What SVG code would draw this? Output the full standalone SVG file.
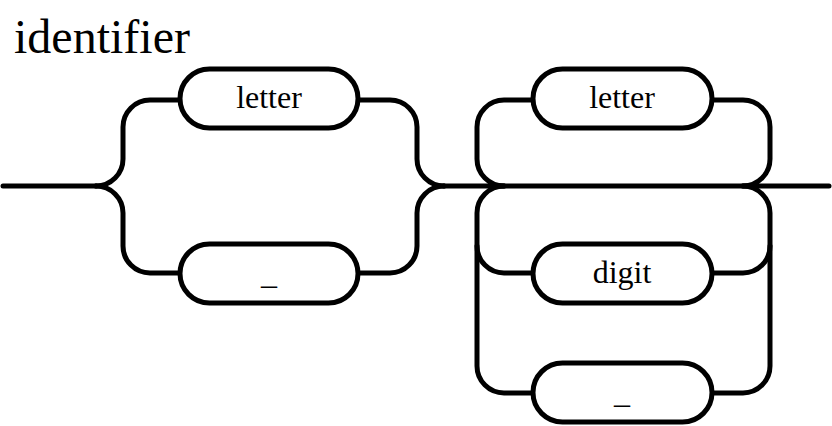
<svg xmlns="http://www.w3.org/2000/svg" width="832" height="426" viewBox="0 0 832 426">
<style>
.ln{fill:none;stroke:#000;stroke-width:5;stroke-linecap:round;stroke-linejoin:round}
.bx{fill:#fff;stroke:#000;stroke-width:5}
.t{font-family:"Liberation Serif","Times New Roman",Times,"Nimbus Roman","Nimbus Roman No9 L",FreeSerif,Tinos,"Noto Serif","DejaVu Serif",serif;font-size:32px;text-anchor:middle;fill:#000}
.title{font-family:"Liberation Serif","Times New Roman",Times,"Nimbus Roman","Nimbus Roman No9 L",FreeSerif,Tinos,"Noto Serif","DejaVu Serif",serif;font-size:48px;fill:#000}
</style>
<rect width="832" height="426" fill="#fff"/>
<text class="title" x="14" y="53">identifier</text>
<g id="connectors" class="ln">
<path d="M3,186 H96"/>
<path d="M96,186 A27 27 0 0 0 123,159 V127 A27 27 0 0 1 150,100 H180"/>
<path d="M96,186 A27 27 0 0 1 123,213 V246 A27 27 0 0 0 150,273 H180"/>
<path d="M358,100 H390 A27 27 0 0 1 417,127 V159 A27 27 0 0 0 444,186"/>
<path d="M358,273 H390 A27 27 0 0 0 417,246 V213 A27 27 0 0 1 444,186"/>
<path d="M444,186 H829"/>
<path d="M504,186 A27 27 0 0 1 477,159 V127 A27 27 0 0 1 504,100 H533"/>
<path d="M712,100 H743 A27 27 0 0 1 770,127 V159 A27 27 0 0 1 743,186"/>
<path d="M504,186 A27 27 0 0 0 477,213 V366 A27 27 0 0 0 504,393 H533"/>
<path d="M477,246 A27 27 0 0 0 504,273 H533"/>
<path d="M712,273 H743 A27 27 0 0 0 770,246 V213 A27 27 0 0 0 743,186"/>
<path d="M712,393 H743 A27 27 0 0 0 770,366 V246"/>
</g>
<g id="n_letter1"><rect class="bx" x="180" y="69" width="178" height="59" rx="29.5"/><text class="t" x="269" y="108">letter</text></g>
<g id="n_under1"><rect class="bx" x="180" y="244" width="178" height="59" rx="29.5"/><text class="t" x="269" y="284">_</text></g>
<g id="n_letter2"><rect class="bx" x="533" y="69" width="179" height="59" rx="29.5"/><text class="t" x="622" y="108">letter</text></g>
<g id="n_digit"><rect class="bx" x="533" y="244" width="179" height="59" rx="29.5"/><text class="t" x="622" y="283">digit</text></g>
<g id="n_under2"><rect class="bx" x="533" y="363" width="179" height="59" rx="29.5"/><text class="t" x="622" y="403">_</text></g>
</svg>
